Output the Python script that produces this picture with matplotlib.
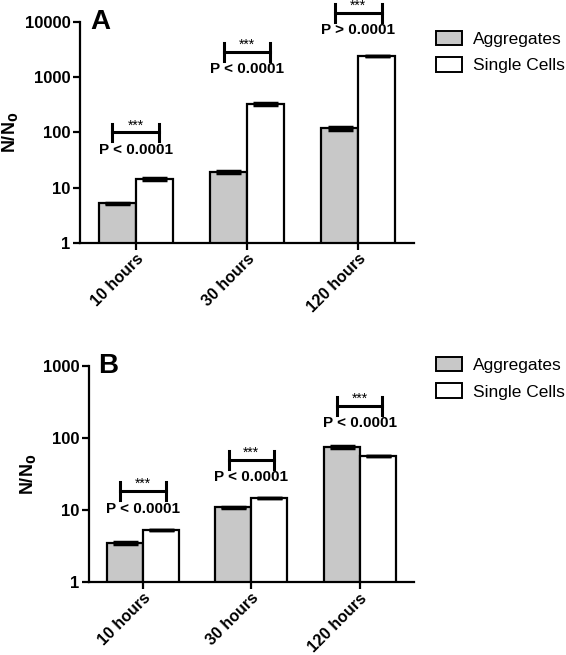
import numpy as np
import matplotlib
matplotlib.use("Agg")
import matplotlib.pyplot as plt
from matplotlib.patches import Patch

plt.rcParams['font.family'] = ['Liberation Sans', 'DejaVu Sans']

groups = ['10 hours', '30 hours', '120 hours']
series = ['Aggregates', 'Single Cells']

# panel A
a_agg = [5.2, 19, 118]
a_agg_err = [0.15, 0.8, 5]
a_single = [14.5, 325, 2450]
a_single_err = [0.6, 12, 0]
a_bracket = [100, 2900, 14500]
a_pval = ['P < 0.0001', 'P < 0.0001', 'P > 0.0001']

# panel B
b_agg = [3.47, 10.9, 75.5]
b_agg_err = [0.12, 0.3, 2]
b_single = [5.3, 14.6, 56.6]
b_single_err = [0, 0, 0]
b_bracket = [18.3, 50, 280]
b_pval = ['P < 0.0001', 'P < 0.0001', 'P < 0.0001']

fig = plt.figure(figsize=(5.66, 6.55), dpi=100)
axA = fig.add_axes([0.1413, 0.629, 0.590, 0.3376])
axB = fig.add_axes([0.157, 0.111, 0.574, 0.3307])


def draw(ax, agg, agg_err, single, single_err, bracket, pvals, ymax, letter, leg_y, tk):
    x = np.arange(len(groups))
    w = 0.333
    ax.bar(x - w / 2, agg, w, color='#c8c8c8', edgecolor='black', linewidth=1.6, zorder=2)
    ax.bar(x + w / 2, single, w, color='white', edgecolor='black', linewidth=1.6, zorder=2)
    ax.errorbar(x - w / 2, agg, yerr=agg_err, fmt='none', ecolor='black',
                elinewidth=2, capsize=9, capthick=2.5, zorder=3)
    ax.errorbar(x + w / 2, single, yerr=single_err, fmt='none', ecolor='black',
                elinewidth=2, capsize=9, capthick=2.5, zorder=3)
    ax.set_yscale('log')
    ax.set_ylim(1, ymax)
    ax.set_xlim(-0.5, 2.5)
    ax.yaxis.set_minor_locator(matplotlib.ticker.NullLocator())
    ax.set_yticks([10 ** i for i in range(int(np.log10(ymax)) + 1)])
    ax.set_yticklabels([str(10 ** i) for i in range(int(np.log10(ymax)) + 1)],
                       fontsize=12, fontweight='bold')
    ax.set_xticks(x)
    ax.set_xticklabels(groups, rotation=45, ha='right', rotation_mode='anchor',
                       fontsize=11.5, fontweight='bold')
    for s in ['top', 'right']:
        ax.spines[s].set_visible(False)
    for s in ['left', 'bottom']:
        ax.spines[s].set_linewidth(1.6)
    ax.tick_params(width=1.6, length=5, direction='out', pad=2)
    ax.tick_params(axis='x', pad=1)
    ax.set_ylabel('N/N$_\\mathbf{0}$', fontsize=13, fontweight='bold', labelpad=3)
    ax.text(0.03, 1.0, letter, transform=ax.transAxes, fontsize=20,
            fontweight='bold', va='center', ha='left')
    hw = 0.21
    for xi, by, pv in zip(x, bracket, pvals):
        ax.plot([xi - hw, xi + hw], [by, by], color='black', lw=2.2, clip_on=False)
        ax.plot([xi - hw, xi - hw], [by / tk, by * tk], color='black', lw=2.2, clip_on=False)
        ax.plot([xi + hw, xi + hw], [by / tk, by * tk], color='black', lw=2.2, clip_on=False)
        ax.annotate('***', (xi, by), xytext=(0, 0), textcoords='offset points',
                    ha='center', va='bottom', fontsize=10, annotation_clip=False)
        ax.annotate(pv, (xi, by), xytext=(0, -7.5), textcoords='offset points',
                    ha='center', va='top', fontsize=11, fontweight='bold',
                    annotation_clip=False)
    handles = [Patch(facecolor='#c8c8c8', edgecolor='black', linewidth=1.4),
               Patch(facecolor='white', edgecolor='black', linewidth=1.4)]
    fig.legend(handles, series, loc='upper left', bbox_to_anchor=(0.743, leg_y),
               frameon=False, fontsize=12.5, handlelength=1.5, handleheight=0.9,
               labelspacing=0.6, handletextpad=0.6)


draw(axA, a_agg, a_agg_err, a_single, a_single_err, a_bracket, a_pval, 10000, 'A', 0.977, 1.45)
draw(axB, b_agg, b_agg_err, b_single, b_single_err, b_bracket, b_pval, 1000, 'B', 0.479, 1.33)

fig.savefig('out.png', dpi=100)
